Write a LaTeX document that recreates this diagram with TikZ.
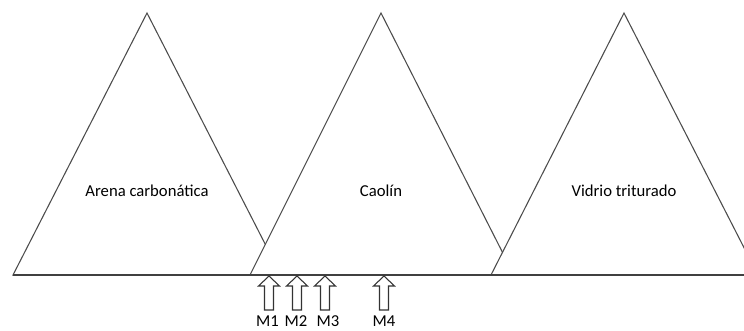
\documentclass[tikz,border=0pt]{standalone}
\usepackage{fontspec}
\setmainfont{Carlito}
\begin{document}
\begin{tikzpicture}[x=0.75pt,y=-0.75pt,
  edge/.style={draw=black!70,line width=0.8pt,line join=miter},
  tri/.style={edge,fill=white},
  lbl/.style={font=\fontsize{12.5}{15}\selectfont,inner sep=0pt},
  uparrow/.style={draw=black!80,line width=0.8pt,fill=white}]
\useasboundingbox (0,0) rectangle (744,330);
\begin{scope}
\clip (0,0) rectangle (744,330);
% triangles (later ones in front)
\path[tri] (147,13) -- (13,275) -- (281,275) -- cycle;
\path[tri] (381,13) -- (250,275) -- (514,275) -- cycle;
\path[tri] (624,13) -- (491,275) -- (758,275) -- cycle;
% base line
\coordinate (bl) at (13,275);
\coordinate (br) at (744,275);
\draw[edge,draw=black!75] (bl) -- (br);
\end{scope}
\node[lbl,anchor=base] (t1) at (147,196) {Arena carbonática};
\node[lbl,anchor=base] (t2) at (381,196) {Caolín};
\node[lbl,anchor=base] (t3) at (624,196) {Vidrio triturado};
% arrows
\foreach \c/\n/\lx in {269/M1/267.5,297/M2/296,325/M3/328,384/M4/384}{
  \path[uparrow] (\c,276) -- (\c+10.5,286) -- (\c+4.5,286) -- (\c+4.5,310)
     -- (\c-4.5,310) -- (\c-4.5,286) -- (\c-10.5,286) -- cycle;
  \node[lbl,anchor=base] (l\n) at (\lx,326.5) {\n};
}
\end{tikzpicture}
\end{document}
